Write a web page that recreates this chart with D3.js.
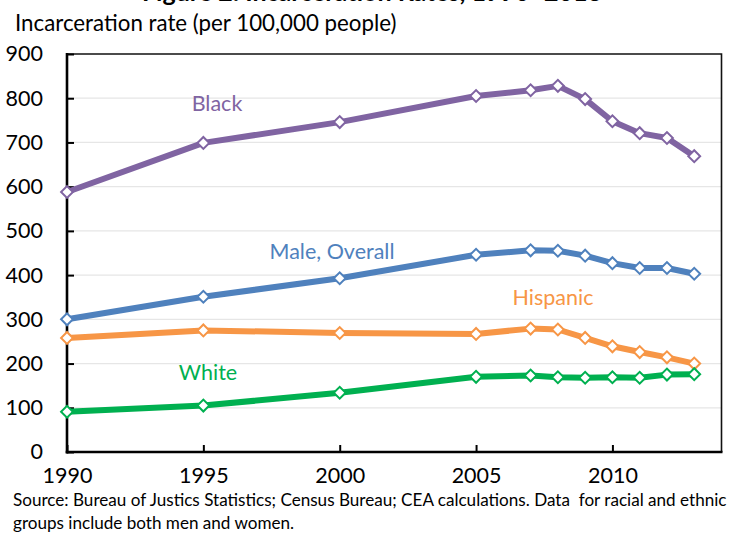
<!DOCTYPE html>
<html>
<head>
<meta charset="utf-8">
<script src="https://cdn.jsdelivr.net/npm/d3@7"></script>
<style>
  html, body { margin: 0; padding: 0; background: #fff; }
  svg { display: block; font-family: Lato, "Open Sans", sans-serif; }
</style>
</head>
<body>
<svg id="chart" width="733" height="533"></svg>
<script>
// Incarceration rates per 100,000 people, 1990–2013
const years    = [1990, 1995, 2000, 2005, 2007, 2008, 2009, 2010, 2011, 2012, 2013];
const black    = [588, 699, 746, 805, 818, 828, 798, 748, 721, 710, 669];
const male     = [300, 351, 393, 446, 456, 455, 444, 427, 416, 416, 403];
const hispanic = [258, 275, 269, 267, 279, 277, 258, 239, 226, 214, 200];
const white    = [91, 105, 134, 170, 173, 169, 168, 169, 168, 175, 176];

const yTicks = [0, 100, 200, 300, 400, 500, 600, 700, 800, 900];
const xTicks = [1990, 1995, 2000, 2005, 2010];

const seriesNames  = ["Male, Overall", "Hispanic", "White", "Black"];
const seriesValues = [male, hispanic, white, black];
const seriesColors = ["#4F81BD", "#F79646", "#00B050", "#8064A2"];
const seriesLabelPos = [[332, 259], [553, 305], [208, 380], [217, 111]];

const svg = d3.select("#chart");
const plotLeft = 67, plotRight = 721.5, plotTop = 54, plotBottom = 452;

const x = d3.scaleLinear().domain([1990, 2014]).range([plotLeft, plotRight]);
const y = d3.scaleLinear().domain([0, 900]).range([plotBottom, plotTop]);

// Title (runs off the top edge)
svg.append("text")
  .attr("x", 372).attr("y", 1)
  .attr("text-anchor", "middle")
  .attr("font-weight", "bold")
  .attr("font-size", 25)
  .attr("fill", "#000")
  .text("Figure 2: Incarceration Rates, 1990–2013");

// Axis title
svg.append("text")
  .attr("x", 15).attr("y", 31)
  .attr("font-size", 22.3)
  .attr("fill", "#000")
  .text("Incarceration rate (per 100,000 people)");

// Gridlines
svg.append("g")
  .selectAll("line")
  .data(yTicks.filter(d => d > 0 && d < 900))
  .join("line")
  .attr("x1", plotLeft).attr("x2", plotRight)
  .attr("y1", d => y(d)).attr("y2", d => y(d))
  .attr("stroke", "#E6E6E6")
  .attr("stroke-width", 1.2);

// Frame: top and right
svg.append("path")
  .attr("d", `M${plotLeft},${plotTop}H${plotRight}V${plotBottom}`)
  .attr("fill", "none")
  .attr("stroke", "#111")
  .attr("stroke-width", 1.6);

// Y axis (ticks pointing inward)
const yAxis = d3.axisLeft(y).tickValues(yTicks).tickSize(-7).tickPadding(24).tickFormat(d3.format("d"));
const gy = svg.append("g").attr("transform", `translate(${plotLeft},0)`).call(yAxis);
gy.select(".domain").remove();
gy.selectAll(".tick line").attr("stroke", "#000").attr("stroke-width", 2);
gy.selectAll(".tick text").attr("font-size", 21.5).attr("fill", "#000").attr("font-family", "Lato, sans-serif");
gy.append("line")
  .attr("x1", 0).attr("x2", 0).attr("y1", plotTop - 1).attr("y2", plotBottom + 1.5)
  .attr("stroke", "#000").attr("stroke-width", 2.6);

// X axis (ticks pointing inward)
const xAxis = d3.axisBottom(x).tickValues(xTicks).tickSize(-7).tickPadding(16).tickFormat(d3.format("d"));
const gx = svg.append("g").attr("transform", `translate(0,${plotBottom})`).call(xAxis);
gx.select(".domain").remove();
gx.selectAll(".tick line").attr("stroke", "#000").attr("stroke-width", 2);
gx.selectAll(".tick text").attr("font-size", 21.5).attr("fill", "#000").attr("font-family", "Lato, sans-serif");
gx.append("line")
  .attr("x1", plotLeft - 1.3).attr("x2", plotRight + 1).attr("y1", 0).attr("y2", 0)
  .attr("stroke", "#000").attr("stroke-width", 2.6);

// Series lines and diamond markers
const line = d3.line().x((d, i) => x(years[i])).y(d => y(d));
const marker = d3.symbol().type(d3.symbolSquare).size(70);

seriesValues.forEach((vals, k) => {
  const g = svg.append("g");
  g.append("path")
    .datum(vals)
    .attr("d", line)
    .attr("fill", "none")
    .attr("stroke", seriesColors[k])
    .attr("stroke-width", 6)
    .attr("stroke-linejoin", "round");
  g.selectAll("path.marker")
    .data(vals)
    .join("path")
    .attr("class", "marker")
    .attr("transform", (d, i) => `translate(${x(years[i])},${y(d)}) rotate(45)`)
    .attr("d", marker)
    .attr("fill", "#fff")
    .attr("stroke", seriesColors[k])
    .attr("stroke-width", 2);
  g.append("text")
    .attr("x", seriesLabelPos[k][0]).attr("y", seriesLabelPos[k][1])
    .attr("text-anchor", "middle")
    .attr("font-size", 21.5)
    .attr("fill", seriesColors[k])
    .text(seriesNames[k]);
});

// Source note
const note = svg.append("text")
  .attr("font-size", 17.1)
  .attr("fill", "#000")
  .style("white-space", "pre");
note.append("tspan").attr("x", 13).attr("y", 506)
  .text("Source: Bureau of Justics Statistics; Census Bureau; CEA calculations. Data  for racial and ethnic");
note.append("tspan").attr("x", 13).attr("y", 529)
  .text("groups include both men and women.");
</script>
</body>
</html>
